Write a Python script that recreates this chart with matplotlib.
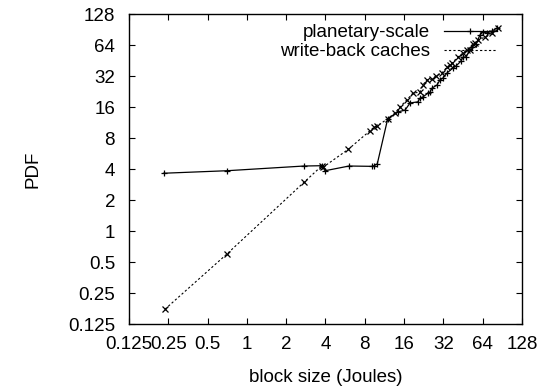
import matplotlib
matplotlib.use("Agg")
import matplotlib.pyplot as plt

plt.rcParams['font.family'] = ['Liberation Sans', 'DejaVu Sans']

# tick values / labels (log2 axes)
tick_vals = [0.125, 0.25, 0.5, 1, 2, 4, 8, 16, 32, 64, 128]
tick_labels = ['0.125', '0.25', '0.5', '1', '2', '4', '8', '16', '32', '64', '128']

# planetary-scale (solid, +)
planetary_x = [0.23, 0.70, 2.74, 3.74, 3.97, 6.06, 9.03, 9.4, 9.97, 12.0,
               14.4, 16.3, 17.8, 20.4, 21.2, 22.3, 24.4, 25.3, 26.2, 28.6,
               30.1, 31.8, 34.1, 37.9, 40.0, 43.7, 45.2, 47.7, 53.0, 56.9,
               61.0, 64.4, 69.1, 75.4, 82.4]
planetary_y = [3.66, 3.87, 4.30, 4.33, 3.87, 4.30, 4.27, 4.33, 4.5, 12.4,
               14.4, 15.0, 17.6, 18.0, 19.6, 20.1, 21.9, 22.4, 24.5, 26.2,
               29.3, 30.7, 34.3, 38.3, 40.1, 44.8, 49.0, 49.0, 61.3, 65.5,
               80.1, 85.6, 83.8, 87.6, 93.6]

# write-back caches (dashed, x)
writeback_x = [0.236, 0.70, 2.74, 3.74, 3.85, 5.98, 8.78, 9.4, 10.0, 12.0,
               13.6, 14.9, 16.8, 18.7, 21.2, 22.3, 23.8, 26.2, 28.1, 31.2,
               34.1, 36.0, 37.2, 41.4, 45.2, 48.5, 53.9, 55.9, 58.9, 66.7,
               75.4, 83.8]
writeback_y = [0.176, 0.60, 2.99, 4.30, 4.2, 6.24, 9.46, 10.2, 10.5, 12.4,
               14.0, 16.1, 18.8, 21.9, 22.4, 26.2, 29.3, 30.0, 32.1, 34.3,
               39.2, 41.0, 42.9, 49.0, 53.6, 57.3, 65.5, 67.0, 71.6, 76.6,
               83.8, 93.6]

fig = plt.figure(figsize=(5.42, 3.90), dpi=100)
ax = fig.add_axes([0.238, 0.168, 0.725, 0.796])

ax.plot(planetary_x, planetary_y, color='black', lw=0.9, marker='+',
        ms=5, mew=0.9, label='planetary-scale')
ax.plot(writeback_x, writeback_y, color='black', lw=0.8, ls=(0, (2, 2)),
        marker='x', ms=4.5, mew=0.9, label='write-back caches')

ax.set_xscale('log', base=2)
ax.set_yscale('log', base=2)
ax.set_xlim(0.125, 128)
ax.set_ylim(0.125, 128)
ax.set_xticks(tick_vals)
ax.set_xticklabels(tick_labels)
ax.set_yticks(tick_vals)
ax.set_yticklabels(tick_labels)
ax.minorticks_off()
ax.tick_params(direction='in', length=4, width=0.8, top=True, right=True,
               labelsize=13.5, pad=8)
ax.tick_params(axis='y', pad=10)
for s in ax.spines.values():
    s.set_linewidth(1.0)

ax.set_xlabel('block size (Joules)', fontsize=13.5, labelpad=12)
ax.set_ylabel('PDF', fontsize=13.5, labelpad=19)

ax.legend(loc='upper right', bbox_to_anchor=(0.9356, 0.967), markerfirst=False,
          frameon=False, fontsize=13.5, handlelength=2.8, handletextpad=0.75,
          labelspacing=0.1, borderpad=0, borderaxespad=0)

fig.savefig('out.png', dpi=100)
